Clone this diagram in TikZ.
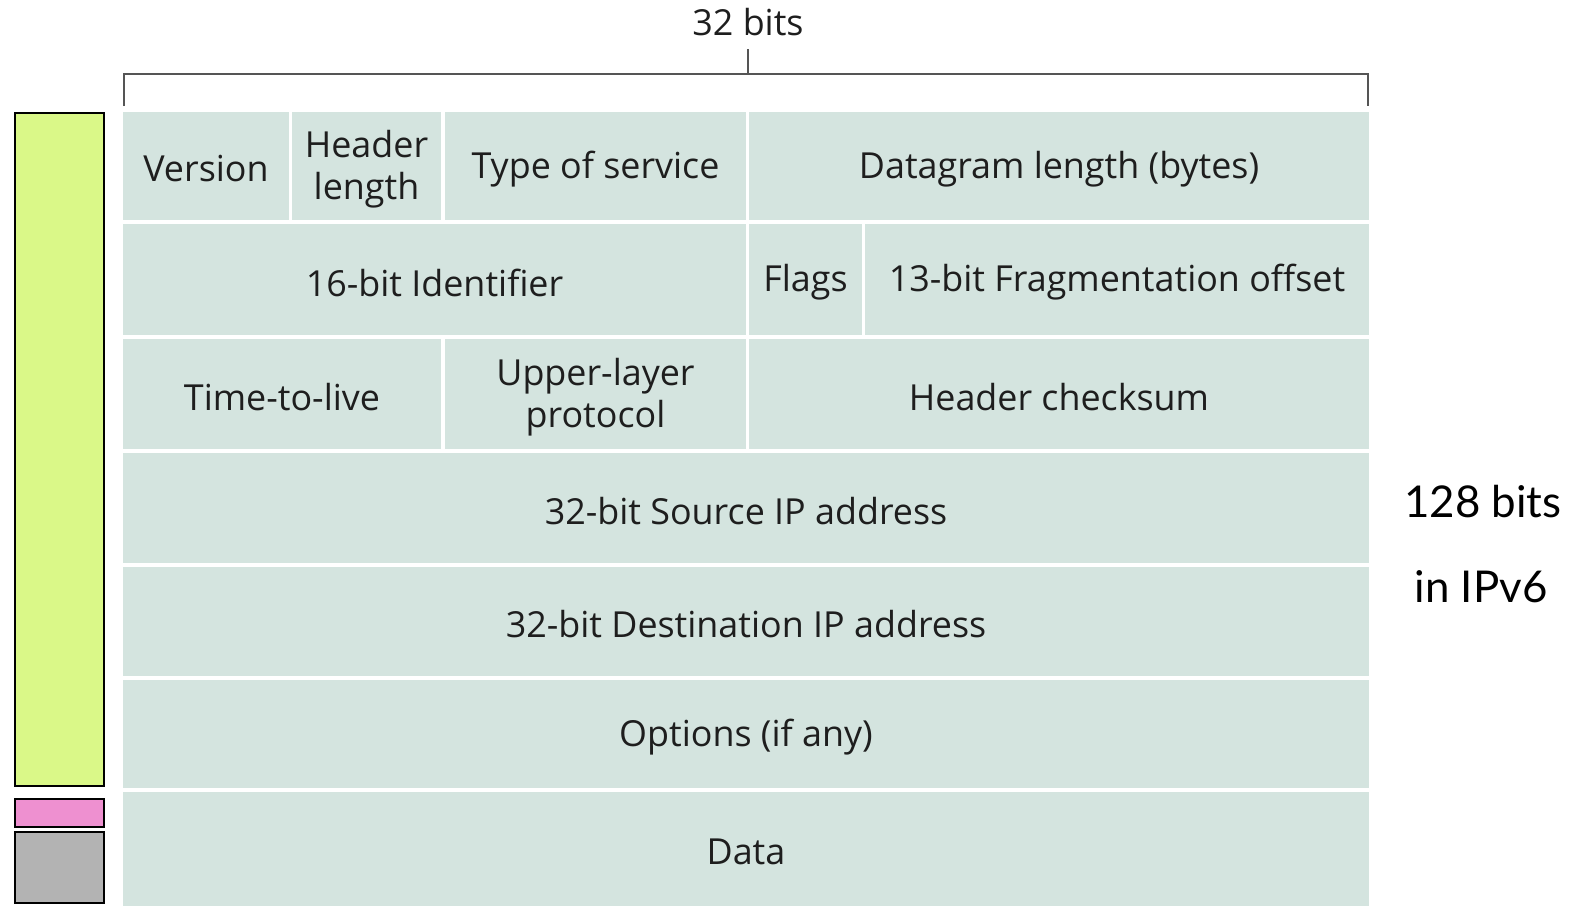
\documentclass[tikz,border=0pt]{standalone}
\usepackage{fontspec}
\setmainfont{Open Sans}
\newfontfamily\gillfont{Lato}
\definecolor{cellfill}{HTML}{D4E4DF}
\definecolor{txt}{HTML}{1E1E1E}
\definecolor{hdrgreen}{HTML}{DAF888}
\definecolor{datapink}{HTML}{EE90D0}
\definecolor{lowgray}{HTML}{B3B3B3}
\definecolor{brk}{HTML}{555555}
\tikzset{
  cell/.style={fill=cellfill, inner sep=0pt},
  celltext/.style={inner sep=0pt, text=txt, align=center, font=\fontsize{36}{42}\selectfont, yshift=-3bp},
  bar/.style={draw=black, line width=2bp},
  bracket/.style={draw=brk, line width=1.5bp},
}
\newcommand{\mkcell}[6]{%
  \pgfmathsetmacro{\cx}{(#2+#4)/2}\pgfmathsetmacro{\cy}{(#3+#5)/2}%
  \pgfmathsetmacro{\cw}{#4-#2}\pgfmathsetmacro{\ch}{#5-#3}%
  \node[cell, minimum width=\cw bp, minimum height=\ch bp, label={[celltext]center:#6}] (#1) at (\cx,\cy) {};}
\begin{document}
\begin{tikzpicture}[x=1bp,y=-1bp]
\useasboundingbox (0,0) rectangle (1575,922);
% bracket
\coordinate (bl) at (124,106);
\coordinate (br) at (1368,106);
\coordinate (bm) at (748,74);
\draw[bracket] (bl) |- (bm) -| (br);
\draw[bracket] (bm) -- ++(0,-25) coordinate (bt);
\node[text=txt, font=\fontsize{36}{42}\selectfont] (lbl32) at (748,22) {32 bits};
% row 1
\mkcell{ver}{123}{112}{289}{220}{Version}
\mkcell{hlen}{292}{112}{441}{220}{Header\\length}
\mkcell{tos}{445}{112}{746}{220}{Type of service}
\mkcell{dlen}{749}{112}{1369}{220}{Datagram length (bytes)}
% row 2
\mkcell{ident}{123}{224}{746}{335}{16-bit Identifier}
\mkcell{flags}{749}{224}{862}{335}{Flags}
\mkcell{frag}{865}{224}{1369}{335}{13-bit Fragmentation offset}
% row 3
\mkcell{ttl}{123}{339}{441}{449}{Time-to-live}
\mkcell{ulp}{445}{339}{746}{449}{Upper-layer\\protocol}
\mkcell{csum}{749}{339}{1369}{449}{Header checksum}
% rows 4-7
\mkcell{src}{123}{453}{1369}{563}{32-bit Source IP address}
\mkcell{dst}{123}{567}{1369}{676}{32-bit Destination IP address}
\mkcell{opt}{123}{680}{1369}{788}{Options (if any)}
\mkcell{data}{123}{792}{1369}{906}{Data}
% left bars
\draw[bar, fill=hdrgreen] (15,113) rectangle (104,786);
\draw[bar, fill=datapink] (15,799) rectangle (104,827);
\draw[bar, fill=lowgray] (15,832) rectangle (104,903);
% IPv6 note
\node[font=\gillfont\fontsize{44}{50}\selectfont, text=black] (v6a) at (1483,502) {128 bits};
\node[font=\gillfont\fontsize{44}{50}\selectfont, text=black] (v6b) at (1481,587) {in IPv6};
\end{tikzpicture}
\end{document}
